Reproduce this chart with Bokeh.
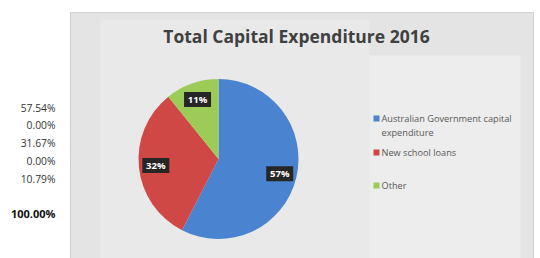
import math
from bokeh.plotting import figure
from bokeh.models import ColumnDataSource, Range1d
from bokeh.core.properties import value
from bokeh.embed import file_html
from bokeh.resources import INLINE

# ---- data ----
categories = ["Australian Government capital expenditure", "New school loans", "Other"]
shares = [57.54, 31.67, 10.79]
label_texts = ["57%", "32%", "11%"]
colors = ["#4a84d0", "#cf4845", "#9ccb57"]
side_values = [57.54, 0.00, 31.67, 0.00, 10.79]
side_total = 100.00
title = "Total Capital Expenditure 2016"

W, H = 540, 258
p = figure(width=W, height=H, output_backend="svg", toolbar_location=None,
           x_range=Range1d(0, W), y_range=Range1d(0, H), min_border=0)
p.axis.visible = False
p.grid.visible = False
p.outline_line_color = None
p.background_fill_color = "white"
p.border_fill_color = "white"

def Y(ry):  # reference page y -> data y
    return H - ry
def X(rx):
    return rx

# panel
p.quad(left=X(70), right=X(533), top=Y(12), bottom=Y(262), fill_color="#e4e4e4",
       line_color="#cfcfcf", line_width=1)
p.quad(left=X(100), right=X(369), top=Y(20), bottom=Y(262), fill_color="#e9e9e9", line_color=None)
p.quad(left=X(369), right=X(520), top=Y(55), bottom=Y(262), fill_color="#ededed", line_color=None)

# title
p.text(x=[X(296)], y=[Y(35)], text=[title], text_align="center", text_baseline="middle",
       text_font=value("Open Sans"), text_font_style="bold", text_font_size="17.5px",
       text_color="#404040")

# pie
cx, cy, r = X(218), Y(158.5), 80
total = sum(shares)
starts, ends, lx, ly = [], [], [], []
cum = 0.0
for v in shares:
    a0 = math.pi / 2 - 2 * math.pi * cum / total
    a1 = math.pi / 2 - 2 * math.pi * (cum + v) / total
    starts.append(a0)
    ends.append(a1)
    mid = (a0 + a1) / 2
    lx.append(cx + 63 * math.cos(mid))
    ly.append(cy + 63 * math.sin(mid))
    cum += v
src = ColumnDataSource(dict(start=starts, end=ends, color=colors, lx=lx, ly=ly, t=label_texts))
p.wedge(x=cx, y=cy, radius=r, start_angle="start", end_angle="end", direction="clock",
        fill_color="color", line_color=None, source=src)
p.rect(x="lx", y="ly", width=27, height=15, fill_color="#262626", line_color=None, source=src)
p.text(x="lx", y="ly", text="t", text_align="center", text_baseline="middle",
       text_font=value("Open Sans"), text_font_style="bold", text_font_size="9.5px",
       text_color="white", source=src)

# legend
leg_lines = [["Australian Government capital", "expenditure"], ["New school loans"], ["Other"]]
leg_y = [Y(118), Y(152), Y(185)]
p.rect(x=[X(376)] * 3, y=leg_y, width=6, height=6, fill_color=colors, line_color=None)
tx, ty = [], []
for lines, y0 in zip(leg_lines, leg_y):
    for k, s in enumerate(lines):
        tx.append(X(381))
        ty.append(y0 - 13.5 * k)
leg_text = [s for lines in leg_lines for s in lines]
p.text(x=tx, y=ty, text=leg_text, text_align="left", text_baseline="middle",
       text_font=value("Open Sans"), text_font_size="9.2px", text_color="#595959")

# side column
sy = [Y(107 + 17.8 * i) for i in range(len(side_values))]
p.text(x=[X(55)] * len(side_values), y=sy, text=["%.2f%%" % v for v in side_values],
       text_align="right", text_baseline="middle", text_font=value("Open Sans"),
       text_font_size="10.3px", text_color="#333333")
p.text(x=[X(55)], y=[Y(213)], text=["%.2f%%" % side_total], text_align="right",
       text_baseline="middle", text_font=value("Open Sans"), text_font_style="bold",
       text_font_size="11px", text_color="#111111")

open("out.html", "w").write(file_html(p, INLINE))
